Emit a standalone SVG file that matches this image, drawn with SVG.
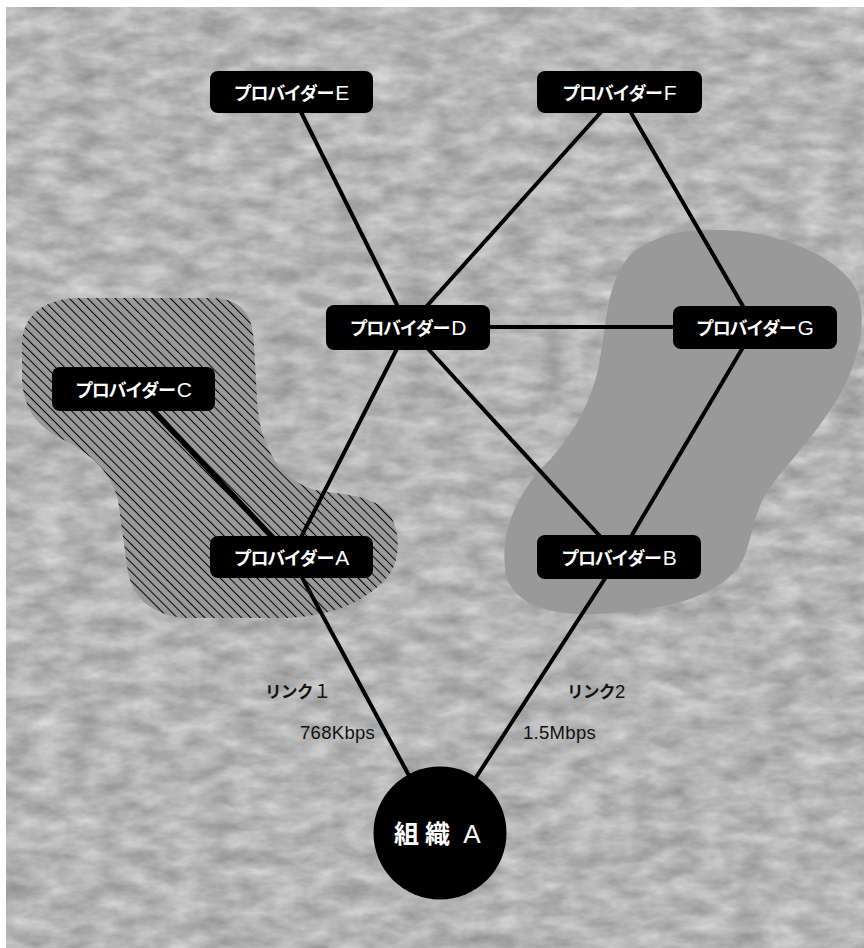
<svg xmlns="http://www.w3.org/2000/svg" width="864" height="948" viewBox="0 0 864 948">
<defs>
<filter id="tex" x="0" y="0" width="100%" height="100%" filterUnits="objectBoundingBox" color-interpolation-filters="sRGB">
<feTurbulence type="fractalNoise" baseFrequency="0.03 0.06" numOctaves="4" seed="11" result="n"/>
<feColorMatrix in="n" type="matrix" values="0.32 0 0 0 0.55  0.32 0 0 0 0.55  0.32 0 0 0 0.55  0 0 0 0 1"/>
</filter>
<pattern id="hatch" patternUnits="userSpaceOnUse" width="6.5" height="6.5" patternTransform="rotate(-45)">
<rect x="0" y="0" width="1" height="6.5" fill="#000"/>
</pattern>
<style>
.node rect{fill:#000;}
.lbl{fill:#fff;text-anchor:middle;}
.kana{font-family:"Noto Sans CJK JP","Noto Sans",sans-serif;font-weight:bold;font-size:18px;letter-spacing:-1.3px;}
.let{font-family:"Liberation Sans",Arial,sans-serif;font-size:21px;font-weight:normal;letter-spacing:0;}
.conn line{stroke:#000;stroke-width:4;stroke-linecap:butt;}
.link{font-family:"Noto Sans CJK JP",sans-serif;font-weight:bold;font-size:16.5px;fill:#111;letter-spacing:-0.5px;}
.num{font-family:"Liberation Sans","Noto Sans CJK JP",sans-serif;font-weight:normal;font-size:18.5px;fill:#111;letter-spacing:0.3px;}
.blob{fill:#999;}
</style>
</defs>
<rect x="0" y="0" width="864" height="948" fill="#fff"/>
<rect x="6" y="7" width="858" height="941" fill="#b4b4b4" filter="url(#tex)"/>

<g id="region-left">
<path class="blob" d="M 80,298 L 215,298 C 245,300 253,318 254,345 L 257,400 C 259,440 275,478 315,490 C 345,495 375,495 390,515 C 402,535 400,565 385,580 C 360,605 330,615 290,618 L 185,618 C 150,615 130,595 127,565 L 118,500 C 112,475 95,455 60,438 C 35,425 22,405 22,375 L 22,345 C 22,315 45,298 80,298 Z"/>
<path fill="url(#hatch)" d="M 80,298 L 215,298 C 245,300 253,318 254,345 L 257,400 C 259,440 275,478 315,490 C 345,495 375,495 390,515 C 402,535 400,565 385,580 C 360,605 330,615 290,618 L 185,618 C 150,615 130,595 127,565 L 118,500 C 112,475 95,455 60,438 C 35,425 22,405 22,375 L 22,345 C 22,315 45,298 80,298 Z"/>
</g>
<g id="region-right">
<path class="blob" d="M 700,230 C 760,228 820,245 850,280 C 870,305 862,350 845,385 C 825,425 790,460 768,490 C 752,515 752,545 740,565 C 715,600 660,610 600,614 C 550,616 515,605 506,575 C 500,540 510,505 540,470 C 570,440 588,410 598,370 C 608,320 605,285 630,255 C 650,238 675,231 700,230 Z"/>
</g>

<g id="connectors" class="conn">
<line x1="291" y1="92" x2="408" y2="327"/>
<line x1="619" y1="92" x2="408" y2="327"/>
<line x1="619" y1="92" x2="755" y2="327"/>
<line x1="408" y1="327" x2="755" y2="327"/>
<line x1="755" y1="327" x2="619" y2="557"/>
<line x1="408" y1="327" x2="619" y2="557"/>
<line x1="408" y1="327" x2="291" y2="557"/>
<line x1="133" y1="389" x2="291" y2="557" style="stroke-width:5.5"/>
<line x1="291" y1="557" x2="440" y2="833"/>
<line x1="619" y1="557" x2="440" y2="833"/>
</g>

<g id="node-E" class="node"><rect x="210" y="71" width="163" height="42" rx="8"/><text class="lbl" x="291.5" y="100"><tspan class="kana">プロバイダー</tspan><tspan class="let" dx="2">E</tspan></text></g>
<g id="node-F" class="node"><rect x="537" y="71" width="165" height="42" rx="8"/><text class="lbl" x="619.5" y="100"><tspan class="kana">プロバイダー</tspan><tspan class="let" dx="2">F</tspan></text></g>
<g id="node-D" class="node"><rect x="326" y="305" width="164" height="45" rx="8"/><text class="lbl" x="408" y="335"><tspan class="kana">プロバイダー</tspan><tspan class="let" dx="2">D</tspan></text></g>
<g id="node-G" class="node"><rect x="673" y="306" width="164" height="43" rx="8"/><text class="lbl" x="755" y="335"><tspan class="kana">プロバイダー</tspan><tspan class="let" dx="2">G</tspan></text></g>
<g id="node-C" class="node"><rect x="52" y="367" width="163" height="44" rx="8"/><text class="lbl" x="133.5" y="397"><tspan class="kana">プロバイダー</tspan><tspan class="let" dx="2">C</tspan></text></g>
<g id="node-A" class="node"><rect x="210" y="536" width="163" height="42" rx="8"/><text class="lbl" x="291.5" y="565"><tspan class="kana">プロバイダー</tspan><tspan class="let" dx="2">A</tspan></text></g>
<g id="node-B" class="node"><rect x="537" y="535" width="164" height="44" rx="8"/><text class="lbl" x="619" y="565"><tspan class="kana">プロバイダー</tspan><tspan class="let" dx="2">B</tspan></text></g>

<g id="org-A">
<circle cx="440" cy="833" r="66.5" fill="#000"/>
<text x="394" y="843" fill="#fff"><tspan font-family="'Noto Sans CJK JP',sans-serif" font-weight="bold" font-size="25" letter-spacing="6">組織</tspan><tspan font-family="'Liberation Sans',sans-serif" font-size="26"> A</tspan></text>
</g>

<g id="labels">
<text x="265" y="698"><tspan class="link">リンク</tspan><tspan class="num" font-size="17">１</tspan></text>
<text class="num" x="300" y="739">768Kbps</text>
<text x="567" y="698"><tspan class="link">リンク</tspan><tspan class="num" font-size="17">2</tspan></text>
<text class="num" x="523" y="739">1.5Mbps</text>
</g>
</svg>
